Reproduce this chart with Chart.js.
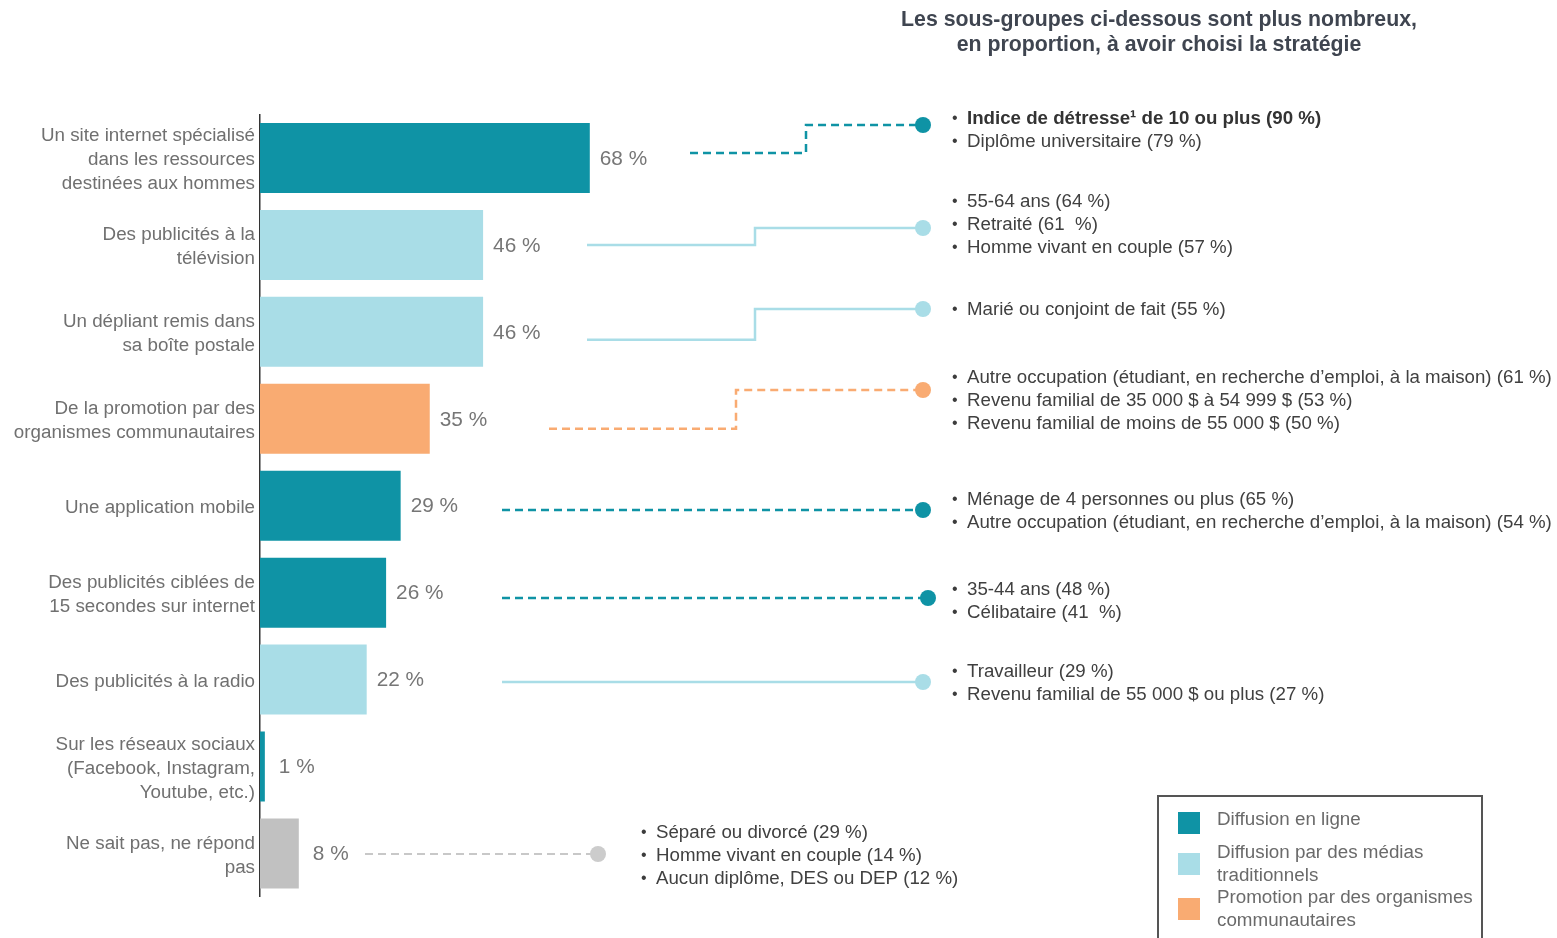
<!DOCTYPE html>
<html lang="fr">
<head>
<meta charset="utf-8">
<title>Stratégies de diffusion</title>
<script src="https://cdn.jsdelivr.net/npm/chart.js@4/dist/chart.umd.min.js"></script>
<style>
  html, body { margin: 0; padding: 0; background: #ffffff; }
  #wrap { width: 1557px; height: 938px; overflow: hidden; }
</style>
</head>
<body>
<div id="wrap"><canvas id="c" width="1557" height="938"></canvas></div>
<script>
// Stratégies (libellés sur plusieurs lignes)
const categories = [
  ["Un site internet spécialisé", "dans les ressources", "destinées aux hommes"],
  ["Des publicités à la", "télévision"],
  ["Un dépliant remis dans", "sa boîte postale"],
  ["De la promotion par des", "organismes communautaires"],
  ["Une application mobile"],
  ["Des publicités ciblées de", "15 secondes sur internet"],
  ["Des publicités à la radio"],
  ["Sur les réseaux sociaux", "(Facebook, Instagram,", "Youtube, etc.)"],
  ["Ne sait pas, ne répond", "pas"]
];

// Proportion ayant choisi chaque stratégie (%)
const values = [68, 46, 46, 35, 29, 26, 22, 1, 8];

// Type de stratégie : 0 en ligne, 1 médias traditionnels, 2 organismes, 3 NSP/NRP
const groupes = [0, 1, 1, 2, 0, 0, 1, 0, 3];

// Libellés de la légende (types 0 à 2)
const legendLabels = [
  ["Diffusion en ligne"],
  ["Diffusion par des médias", "traditionnels"],
  ["Promotion par des organismes", "communautaires"]
];

const titre = [
  "Les sous-groupes ci-dessous sont plus nombreux,",
  "en proportion, à avoir choisi la stratégie"
];

// Sous-groupes associés à chaque stratégie
const sousGroupes = [
  ["Indice de détresse¹ de 10 ou plus (90 %)", "Diplôme universitaire (79 %)"],
  ["55-64 ans (64 %)", "Retraité (61  %)", "Homme vivant en couple (57 %)"],
  ["Marié ou conjoint de fait (55 %)"],
  ["Autre occupation (étudiant, en recherche d’emploi, à la maison) (61 %)", "Revenu familial de 35 000 $ à 54 999 $ (53 %)", "Revenu familial de moins de 55 000 $ (50 %)"],
  ["Ménage de 4 personnes ou plus (65 %)", "Autre occupation (étudiant, en recherche d’emploi, à la maison) (54 %)"],
  ["35-44 ans (48 %)", "Célibataire (41  %)"],
  ["Travailleur (29 %)", "Revenu familial de 55 000 $ ou plus (27 %)"],
  [],
  ["Séparé ou divorcé (29 %)", "Homme vivant en couple (14 %)", "Aucun diplôme, DES ou DEP (12 %)"]
];
// Lignes en gras : [stratégie, ligne]
const enGras = [[0, 0]];

const couleurs = ["#0f93a5", "#a9dde7", "#f9ab72", "#c1c1c1"];
const FONT = "'Liberation Sans', Arial, Helvetica, sans-serif";

// Tracé des connecteurs : départ, coude, point d'arrivée, bloc de texte
const connecteurs = [
  { x0: 690, dy0: -5, xe: 806, y1: 125, xd: 923, ty: 119, bx: 952 },
  { x0: 587, dy0: 0,  xe: 755, y1: 228, xd: 923, ty: 202, bx: 952 },
  { x0: 587, dy0: 8,  xe: 755, y1: 309, xd: 923, ty: 310, bx: 952 },
  { x0: 549, dy0: 10, xe: 736, y1: 390, xd: 923, ty: 378, bx: 952 },
  { x0: 502, dy0: 0,  xe: null, y1: 510, xd: 923, ty: 500, bx: 952 },
  { x0: 502, dy0: 0,  xe: null, y1: 598, xd: 928, ty: 590, bx: 952 },
  { x0: 502, dy0: 0,  xe: null, y1: 682, xd: 923, ty: 672, bx: 952 },
  null,
  { x0: 365, dy0: 0,  xe: null, y1: 854, xd: 598, ty: 833, bx: 641 }
];

const decor = {
  id: "decor",
  afterDatasetsDraw(chart) {
    const ctx = chart.ctx;
    const meta = chart.getDatasetMeta(0);
    ctx.save();

    // Valeurs au bout des barres
    ctx.font = "20.8px " + FONT;
    ctx.fillStyle = "#767676";
    ctx.textBaseline = "middle";
    ctx.textAlign = "left";
    meta.data.forEach((bar, i) => {
      ctx.fillText(values[i] + " %", bar.x + (values[i] < 10 ? 14 : 10), bar.y + 1);
    });

    // Connecteurs et sous-groupes
    connecteurs.forEach((c, i) => {
      if (!c) return;
      const bar = meta.data[i];
      const g = groupes[i];
      const col = g === 3 ? "#c8c8c8" : couleurs[g];
      ctx.strokeStyle = col;
      ctx.lineWidth = g === 3 ? 2 : 2.5;
      ctx.setLineDash(g === 1 ? [] : [8, 5]);
      ctx.beginPath();
      if (c.xe !== null) {
        const ys = bar.y + c.dy0;
        ctx.moveTo(c.x0, ys);
        ctx.lineTo(c.xe, ys);
        ctx.lineTo(c.xe, c.y1);
      } else {
        ctx.moveTo(c.x0, c.y1);
      }
      ctx.lineTo(c.xd, c.y1);
      ctx.stroke();
      ctx.setLineDash([]);
      ctx.fillStyle = g === 3 ? "#cccccc" : col;
      ctx.beginPath();
      ctx.arc(c.xd, c.y1, 8, 0, Math.PI * 2);
      ctx.fill();

      sousGroupes[i].forEach((t, j) => {
        const y = c.ty + j * 23;
        const bold = enGras.some(p => p[0] === i && p[1] === j);
        ctx.fillStyle = "#3c3c3c";
        ctx.font = "16px " + FONT;
        ctx.fillText("•", c.bx, y);
        ctx.font = (bold ? "bold " : "") + "18.7px " + FONT;
        ctx.fillStyle = bold ? "#333333" : "#404040";
        ctx.fillText(t, c.bx + 15, y);
      });
    });

    // Titre du bloc de droite
    ctx.font = "bold 21.3px " + FONT;
    ctx.fillStyle = "#3f4550";
    ctx.textAlign = "center";
    titre.forEach((t, j) => ctx.fillText(t, 1159, 20 + j * 25));

    // Légende
    ctx.textAlign = "left";
    ctx.strokeStyle = "#555555";
    ctx.lineWidth = 2;
    ctx.strokeRect(1158, 796, 324, 170);
    const legY = [823, 864, 909];
    legendLabels.forEach((lines, k) => {
      ctx.fillStyle = couleurs[k];
      ctx.fillRect(1178, legY[k] - 11, 22, 22);
      ctx.fillStyle = "#6a6a6a";
      ctx.font = "18.8px " + FONT;
      const top = lines.length === 1 ? legY[k] - 3 : legY[k] - 11;
      lines.forEach((t, j) => ctx.fillText(t, 1217, top + j * 23));
    });

    ctx.restore();
  }
};

new Chart(document.getElementById("c"), {
  type: "bar",
  data: {
    labels: categories,
    datasets: [{
      data: values,
      backgroundColor: groupes.map(g => couleurs[g]),
      borderWidth: 0,
      categoryPercentage: 1,
      barPercentage: 0.805
    }]
  },
  options: {
    indexAxis: "y",
    responsive: false,
    animation: false,
    layout: { padding: { top: 114.5, bottom: 39.5, left: 0, right: 812 } },
    plugins: {
      legend: { display: false },
      tooltip: { enabled: false },
      title: { display: false }
    },
    scales: {
      x: { display: false, min: 0, max: 100 },
      y: {
        afterFit(scale) { scale.width = 260; },
        grid: { display: false, drawTicks: false },
        border: { display: true, color: "#333333", width: 1.5 },
        ticks: {
          color: "#707070",
          padding: 5,
          labelOffset: 2,
          font: { family: FONT, size: 18.8, lineHeight: 1.28 }
        }
      }
    }
  },
  plugins: [decor]
});
</script>
</body>
</html>
